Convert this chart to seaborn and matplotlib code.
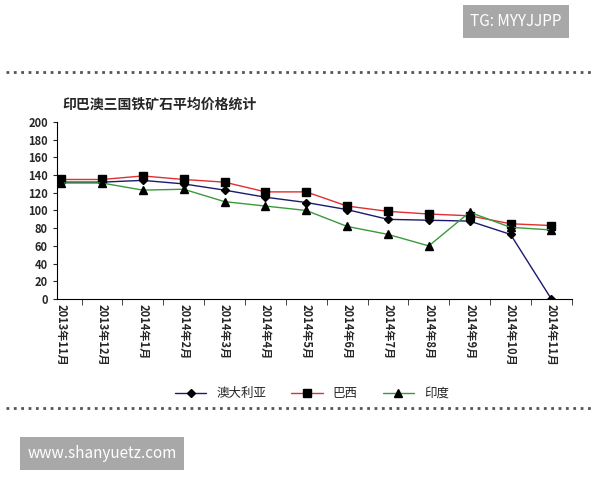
import matplotlib
matplotlib.use("Agg")
import matplotlib.pyplot as plt
import seaborn as sns
import pandas as pd

months = ["2013年11月", "2013年12月", "2014年1月", "2014年2月", "2014年3月", "2014年4月",
          "2014年5月", "2014年6月", "2014年7月", "2014年8月", "2014年9月", "2014年10月", "2014年11月"]
australia = [132, 132, 134, 130, 123, 115, 109, 101, 90, 89, 88, 73, 0]
brazil = [135, 135, 139, 135, 132, 121, 121, 105, 99, 96, 94, 85, 83]
india = [131, 131, 123, 124, 110, 105, 100, 82, 73, 60, 98, 81, 78]

sns.set_style("white")
plt.rcParams['font.family'] = ['Noto Sans CJK SC', 'DejaVu Sans']

fig = plt.figure(figsize=(6, 4.8), dpi=100)
ax = fig.add_axes([0.095, 0.377, 0.858, 0.369])

x = list(range(len(months)))
series = [("澳大利亚", australia, "#1a1a6e", "D", 4),
          ("巴西", brazil, "#e03030", "s", 6),
          ("印度", india, "#3a9a3a", "^", 6)]
handles = []
for name, vals, col, mk, ms in series:
    df = pd.DataFrame({"x": x, "y": vals})
    sns.lineplot(data=df, x="x", y="y", ax=ax, color=col, lw=1)
    ax.plot(x, vals, ls="none", marker=mk, ms=ms, color="black")
    handles.append(plt.Line2D([], [], color=col, marker=mk, ms=ms, mfc="black", mec="black", lw=1, label=name))

ax.set_xlim(-0.1, 12.5)
ax.set_ylim(0, 200)
ax.set_yticks(range(0, 201, 20))
ax.set_xticks(x)
ax.set_xticks([i + 0.5 for i in x], minor=True)
ax.set_xticklabels(months, rotation=-90, fontsize=8, fontweight="bold")
ax.tick_params(axis="x", which="major", length=0)
ax.tick_params(axis="x", which="minor", length=4, direction="out", bottom=True)
ax.tick_params(axis="y", labelsize=8, length=3, left=True)
for lab in ax.get_yticklabels():
    lab.set_fontweight("bold")
ax.set_xlabel("")
ax.set_ylabel("")
for s in ["top", "right"]:
    ax.spines[s].set_visible(False)
ax.spines["left"].set_color("black")
ax.spines["bottom"].set_color("black")
ax.text(0.01, 1.06, "印巴澳三国铁矿石平均价格统计", transform=ax.transAxes,
        fontsize=10, fontweight="bold", va="bottom")

fig.legend(handles=handles, loc="center", bbox_to_anchor=(0.52, 0.18), ncol=3,
           frameon=False, fontsize=9, handlelength=2.5)

# decorative dotted separators and watermarks
fig.add_artist(plt.Line2D([0.01, 0.99], [0.85, 0.85], color="#555555", lw=2, ls=":"))
fig.add_artist(plt.Line2D([0.01, 0.99], [0.15, 0.15], color="#555555", lw=2, ls=":"))
fig.text(0.86, 0.955, "TG: MYYJJPP", fontsize=11, color="white", ha="center", va="center",
         bbox=dict(boxstyle="square,pad=0.5", fc="#a8a8a8", ec="none"))
fig.text(0.17, 0.055, "www.shanyuetz.com", fontsize=11, color="white", ha="center", va="center",
         bbox=dict(boxstyle="square,pad=0.5", fc="#a8a8a8", ec="none"))

fig.savefig("out.png", dpi=100)
